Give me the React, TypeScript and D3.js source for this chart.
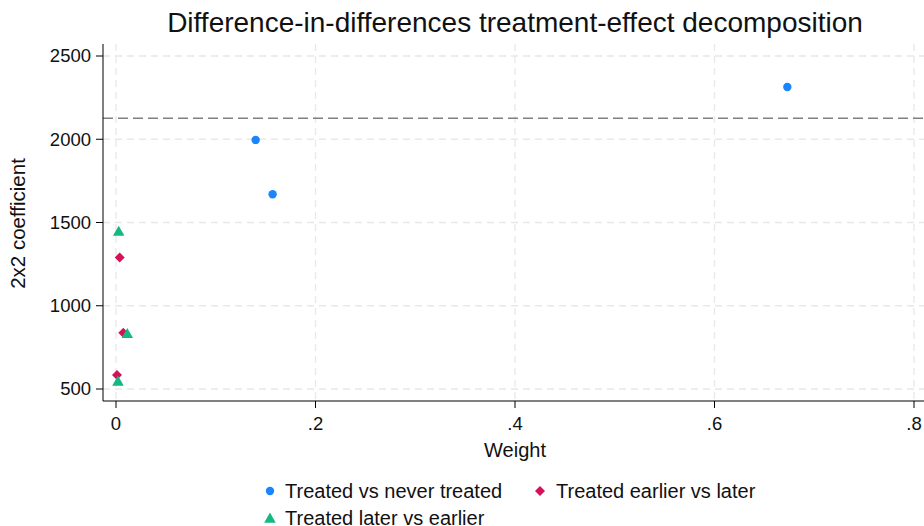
import * as d3 from "d3";

const title = "Difference-in-differences treatment-effect decomposition";
const xTicks = [0, 0.2, 0.4, 0.6, 0.8];
const xTickLabels = ["0", ".2", ".4", ".6", ".8"];
const yTicks = [500, 1000, 1500, 2000, 2500];
const overallEstimate = 2126;

const neverWeight = [0.14, 0.157, 0.673];
const neverCoef = [1996, 1670, 2314];
const earlierWeight = [0.0037, 0.0073, 0.001];
const earlierCoef = [1290, 838, 584];
const laterWeight = [0.0027, 0.0113, 0.002];
const laterCoef = [1448, 834, 548];

const seriesNames = [
  "Treated vs never treated",
  "Treated earlier vs later",
  "Treated later vs earlier",
];
const colors = ["#1a85ff", "#d41159", "#14b981"];

const width = 924;
const height = 526;
const plotLeft = 103;
const plotTop = 44;
const plotBottom = 401;

function Marker({ kind, x, y, color }: { kind: number; x: number; y: number; color: string }) {
  if (kind === 0) return <circle cx={x} cy={y} r={4.2} fill={color} />;
  if (kind === 1) {
    const s = 5;
    return <path d={`M${x},${y - s}L${x + s},${y}L${x},${y + s}L${x - s},${y}Z`} fill={color} />;
  }
  const s = 5.5;
  return (
    <path
      d={`M${x},${y - s}L${x + s * 1.05},${y + s * 0.85}L${x - s * 1.05},${y + s * 0.85}Z`}
      fill={color}
    />
  );
}

export default function App() {
  const x = d3.scaleLinear().domain([0, 0.8]).range([116, 914]);
  const y = d3.scaleLinear().domain([500, 2500]).range([389, 56]);

  const series = [
    { w: neverWeight, c: neverCoef },
    { w: earlierWeight, c: earlierCoef },
    { w: laterWeight, c: laterCoef },
  ];

  const font = "Arial, 'Liberation Sans', sans-serif";

  return (
    <svg
      width={width}
      height={height}
      style={{ position: "absolute", left: 0, top: 0, background: "#fff" }}
      fontFamily={font}
    >
      <rect width={width} height={height} fill="#fff" />
      <text x={515} y={32} textAnchor="middle" fontSize={28} fill="#111">
        {title}
      </text>

      {/* grid */}
      <g stroke="#e8e8e8" strokeWidth={1.3} strokeDasharray="7,5">
        {xTicks.map((t) => (
          <line key={"gx" + t} x1={x(t)} x2={x(t)} y1={plotTop} y2={plotBottom} />
        ))}
        {yTicks.map((t) => (
          <line key={"gy" + t} x1={plotLeft} x2={width} y1={y(t)} y2={y(t)} />
        ))}
      </g>

      {/* overall estimate */}
      <line
        x1={plotLeft}
        x2={width}
        y1={y(overallEstimate)}
        y2={y(overallEstimate)}
        stroke="#808080"
        strokeWidth={1.6}
        strokeDasharray="10,5"
      />

      {/* axes */}
      <g stroke="#000" strokeWidth={1}>
        <line x1={plotLeft} x2={plotLeft} y1={plotTop} y2={plotBottom} />
        <line x1={plotLeft} x2={width} y1={plotBottom} y2={plotBottom} />
        {yTicks.map((t) => (
          <line key={"ty" + t} x1={plotLeft - 7} x2={plotLeft} y1={y(t)} y2={y(t)} />
        ))}
        {xTicks.map((t) => (
          <line key={"tx" + t} x1={x(t)} x2={x(t)} y1={plotBottom} y2={plotBottom + 7} />
        ))}
      </g>
      <g fontSize={18.5} fill="#111">
        {yTicks.map((t) => (
          <text key={"ly" + t} x={plotLeft - 12} y={y(t)} dy="0.35em" textAnchor="end">
            {t}
          </text>
        ))}
        {xTicks.map((t, i) => (
          <text key={"lx" + t} x={x(t)} y={430} textAnchor="middle">
            {xTickLabels[i]}
          </text>
        ))}
      </g>
      <text x={515} y={457} textAnchor="middle" fontSize={20} fill="#111">
        Weight
      </text>
      <text
        transform={`translate(25,${(plotTop + plotBottom) / 2 + 1}) rotate(-90)`}
        textAnchor="middle"
        fontSize={20.5}
        fill="#111"
      >
        2x2 coefficient
      </text>

      {/* points */}
      {series.map((s, k) =>
        s.w.map((w, i) => (
          <Marker key={k + "-" + i} kind={k} x={x(w)} y={y(s.c[i])} color={colors[k]} />
        ))
      )}

      {/* legend */}
      <g fontSize={20} fill="#111">
        {[
          { k: 0, mx: 270, my: 491, tx: 285 },
          { k: 1, mx: 540, my: 491, tx: 556 },
          { k: 2, mx: 270, my: 518, tx: 285 },
        ].map(({ k, mx, my, tx }) => (
          <g key={"lg" + k}>
            <Marker kind={k} x={mx} y={my} color={colors[k]} />
            <text x={tx} y={my + 7}>
              {seriesNames[k]}
            </text>
          </g>
        ))}
      </g>
    </svg>
  );
}
